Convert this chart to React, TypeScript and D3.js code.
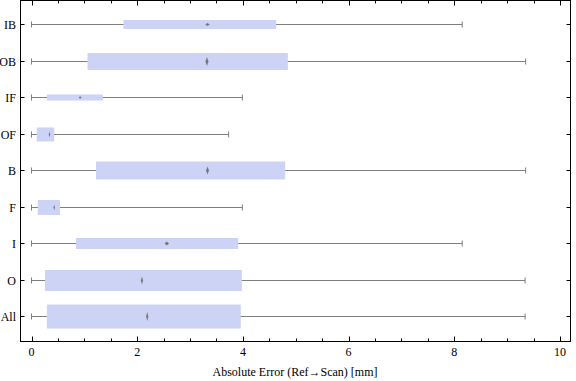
import React from "react";
import * as d3 from "d3";

const categories = ["IB", "OB", "IF", "OF", "B", "F", "I", "O", "All"];
const whiskerLow = [0, 0, 0, 0, 0, 0, 0, 0, 0];
const whiskerHigh = [8.15, 9.35, 3.99, 3.73, 9.35, 3.99, 8.15, 9.34, 9.34];
const q1 = [1.74, 1.06, 0.29, 0.1, 1.22, 0.12, 0.84, 0.255, 0.29];
const q3 = [4.63, 4.85, 1.35, 0.43, 4.8, 0.54, 3.91, 3.98, 3.96];
const marker = [3.33, 3.32, 0.92, 0.34, 3.33, 0.43, 2.56, 2.09, 2.19];
// relative box thickness (sample weight)
const boxWeight = [9, 17, 6, 14, 18, 15, 11, 21, 24];
const xTicks = [0, 2, 4, 6, 8, 10];
const xLabel = "Absolute Error (Ref\u2192Scan) [mm]";

// marker half-sizes (style)
const markerHalfW = [2.2, 1.5, 1.5, 0.7, 1.5, 0.7, 2.2, 1.1, 1.1];
const markerHalfH = [1.6, 4.5, 1.2, 3, 4, 3, 2, 4, 4.5];

const W = 576;
const H = 381;
const L = 20.5, R = 570.5, T = 0.5, B = 341.5;

export default function App() {
  const x = d3.scaleLinear().domain([0, 10]).range([31.5, 560]);
  const y = d3.scalePoint<string>().domain(categories).range([24, 316]);
  const minor = d3.range(0, 10.01, 0.5);
  const font = "'Liberation Serif', 'Times New Roman', serif";
  const gray = "#7f7f7f";
  return (
    <svg width={W} height={H} style={{ position: "absolute", left: 0, top: 0 }}>
      <rect x={0} y={0} width={W} height={H} fill="#fff" />
      {categories.map((c, i) => {
        const cy = Math.round(y(c)!) + 0.5;
        const h = boxWeight[i];
        const mh = markerHalfH[i];
        const mw = markerHalfW[i];
        const mx = x(marker[i]);
        return (
          <g key={c}>
            <line x1={x(whiskerLow[i])} x2={x(whiskerHigh[i])} y1={cy} y2={cy} stroke={gray} strokeWidth={1} />
            <line x1={x(whiskerLow[i])} x2={x(whiskerLow[i])} y1={cy - 3} y2={cy + 3} stroke={gray} />
            <line x1={x(whiskerHigh[i])} x2={x(whiskerHigh[i])} y1={cy - 3} y2={cy + 3} stroke={gray} />
            <rect x={x(q1[i])} y={cy - h / 2} width={x(q3[i]) - x(q1[i])} height={h} fill="#ccd3f5" />
            <path
              d={`M${mx},${cy - mh}L${mx + mw},${cy}L${mx},${cy + mh}L${mx - mw},${cy}Z`}
              fill="#777"
            />
          </g>
        );
      })}
      {/* frame */}
      <rect x={L} y={T} width={R - L} height={B - T} fill="none" stroke="#000" strokeWidth={1} />
      {minor.map((v) => {
        const major = Math.abs(v % 2) < 1e-9;
        const len = major ? 5 : 3;
        const px = Math.round(x(v)) + 0.5;
        return (
          <g key={v}>
            <line x1={px} x2={px} y1={B} y2={B - len} stroke="#000" />
            <line x1={px} x2={px} y1={T} y2={T + len} stroke="#000" />
          </g>
        );
      })}
      {xTicks.map((v) => (
        <text key={v} x={x(v)} y={356} textAnchor="middle" fontFamily={font} fontSize={12} fill="#000">
          {v}
        </text>
      ))}
      {categories.map((c) => {
        const cy = Math.round(y(c)!) + 0.5;
        return (
          <g key={c}>
            <line x1={L} x2={L + 4} y1={cy} y2={cy} stroke="#000" />
            <line x1={R} x2={R - 4} y1={cy} y2={cy} stroke="#000" />
            <text x={16} y={cy + 4} textAnchor="end" fontFamily={font} fontSize={12} fill="#000">
              {c}
            </text>
          </g>
        );
      })}
      <text x={295} y={376} textAnchor="middle" fontFamily={font} fontSize={12} fill="#000">
        {xLabel}
      </text>
    </svg>
  );
}
